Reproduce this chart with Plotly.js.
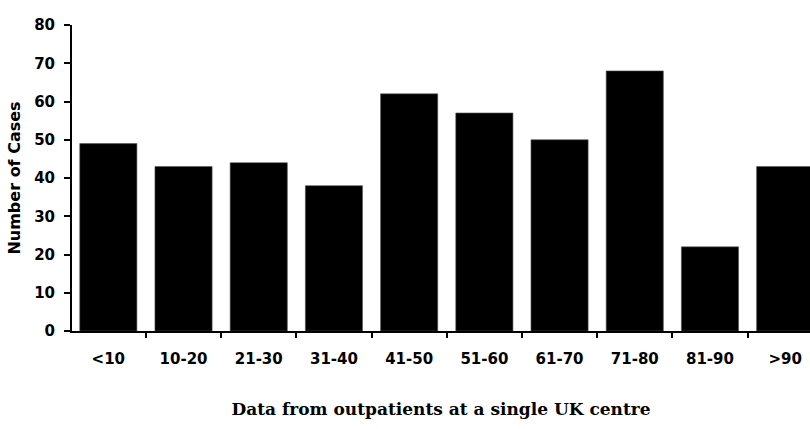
<!DOCTYPE html>
<html>
<head>
<meta charset="utf-8">
<script src="https://cdn.plot.ly/plotly-3.0.1.min.js"></script>
<style>
  html, body { margin: 0; padding: 0; background: #fff; }
  #chart { width: 810px; height: 429px; }
</style>
</head>
<body>
<div id="chart"></div>
<script>
// Age groups of outpatients and number of cases in each
const ageGroups = ['<10', '10-20', '21-30', '31-40', '41-50', '51-60', '61-70', '71-80', '81-90', '>90'];
const caseCounts = [49, 43, 44, 38, 62, 57, 50, 68, 22, 43];
const yTicks = [0, 10, 20, 30, 40, 50, 60, 70, 80];

const tickFont = { family: 'DejaVu Sans', size: 15, color: '#000', weight: 'bold' };

const trace = {
  type: 'bar',
  x: ageGroups,
  y: caseCounts,
  marker: { color: '#000', line: { color: '#555', width: 0.6 } },
  hoverinfo: 'x+y'
};

const layout = {
  width: 810,
  height: 429,
  margin: { l: 72, r: 0, t: 25, b: 98 },
  paper_bgcolor: '#fff',
  plot_bgcolor: '#fff',
  bargap: 0.24,
  showlegend: false,
  xaxis: {
    type: 'category',
    range: [-0.483, 9.33],
    showgrid: false,
    zeroline: false,
    showline: true,
    linecolor: '#000',
    linewidth: 2,
    ticks: 'outside',
    tickson: 'boundaries',
    ticklen: 5,
    tickwidth: 2,
    tickcolor: '#000',
    tickfont: tickFont,
    ticklabelstandoff: 13,
    title: {
      text: 'Data from outpatients at a single UK centre',
      font: { family: 'DejaVu Serif', size: 17, color: '#000', weight: 'bold' },
      standoff: 36
    }
  },
  yaxis: {
    range: [0, 80],
    tickvals: yTicks,
    showgrid: false,
    zeroline: false,
    showline: true,
    linecolor: '#000',
    linewidth: 2,
    ticks: 'outside',
    ticklen: 6,
    tickwidth: 2,
    tickcolor: '#000',
    tickfont: tickFont,
    ticklabelstandoff: 6,
    title: {
      text: 'Number of Cases',
      font: { family: 'DejaVu Sans', size: 16, color: '#000', weight: 'bold' },
      standoff: 10
    }
  }
};

Plotly.newPlot('chart', [trace], layout, { displayModeBar: false, staticPlot: true });
</script>
</body>
</html>
